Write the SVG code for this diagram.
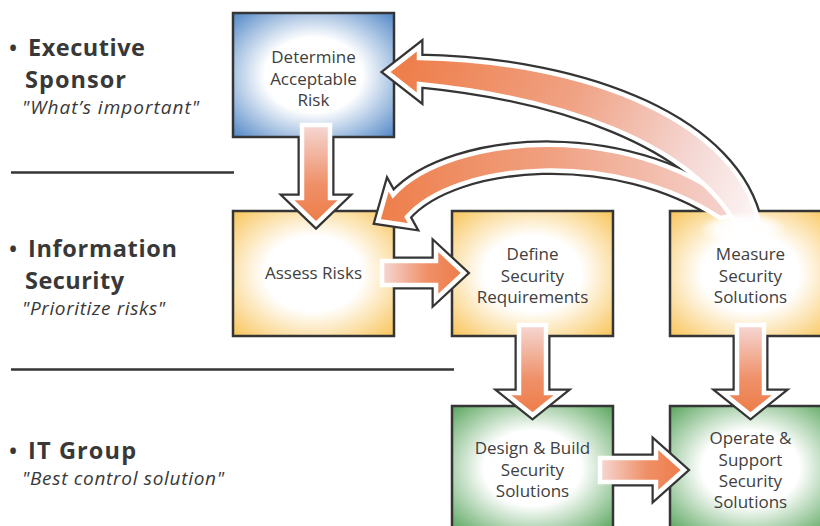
<svg xmlns="http://www.w3.org/2000/svg" width="820" height="526" viewBox="0 0 820 526">
<style>
.box{stroke:#353535;stroke-width:2.5}
.lbl{font-family:"Open Sans","Liberation Sans",sans-serif;font-size:17px;fill:#404040;text-anchor:middle}
.hd{font-family:"Open Sans","Liberation Sans",sans-serif;font-size:23.5px;font-weight:bold;fill:#383838}
.bu{font-family:"Open Sans","Liberation Sans",sans-serif;font-size:27px;fill:#383838}
.it{font-family:"Open Sans","Liberation Sans",sans-serif;font-size:19px;font-style:italic;fill:#383838}
.dk{fill:none;stroke:#353535;stroke-width:9;stroke-linejoin:miter;stroke-miterlimit:10}
.wt{stroke:#ffffff;stroke-width:4.5;stroke-linejoin:miter;stroke-miterlimit:10}
.rule{stroke:#353535;stroke-width:2.5}
</style>
<defs>
<radialGradient id="gBlue" cx="0.5" cy="0.5" r="0.72"><stop offset="0" stop-color="#ffffff"/><stop offset="0.42" stop-color="#ffffff"/><stop offset="1" stop-color="#4a82c4"/></radialGradient>
<radialGradient id="gYel" cx="0.5" cy="0.5" r="0.72"><stop offset="0" stop-color="#ffffff"/><stop offset="0.42" stop-color="#ffffff"/><stop offset="1" stop-color="#f8c253"/></radialGradient>
<radialGradient id="gGrn" cx="0.5" cy="0.5" r="0.72"><stop offset="0" stop-color="#ffffff"/><stop offset="0.42" stop-color="#ffffff"/><stop offset="1" stop-color="#53a257"/></radialGradient>
<linearGradient id="gH" x1="0" y1="0" x2="1" y2="0"><stop offset="0" stop-color="#f5d8d4"/><stop offset="0.55" stop-color="#ef9068"/><stop offset="1" stop-color="#ee7b47"/></linearGradient>
<linearGradient id="gV" x1="0" y1="0" x2="0" y2="1"><stop offset="0" stop-color="#f5d8d4"/><stop offset="0.6" stop-color="#ef9068"/><stop offset="1" stop-color="#ee7b47"/></linearGradient>
<linearGradient id="g1" gradientUnits="userSpaceOnUse" x1="400" y1="72" x2="750" y2="215"><stop offset="0" stop-color="#ee7e4a"/><stop offset="0.45" stop-color="#f0a284"/><stop offset="0.8" stop-color="#f5d8d4"/><stop offset="1" stop-color="#fbf3f2"/></linearGradient>
<linearGradient id="g2" gradientUnits="userSpaceOnUse" x1="380" y1="215" x2="735" y2="205"><stop offset="0" stop-color="#ee7e4a"/><stop offset="0.5" stop-color="#f0a283"/><stop offset="1" stop-color="#f5d4d0"/></linearGradient>
<radialGradient id="gGlow" cx="0.5" cy="0.5" r="0.5"><stop offset="0" stop-color="#ffffff" stop-opacity="1"/><stop offset="0.6" stop-color="#ffffff" stop-opacity="0.85"/><stop offset="1" stop-color="#ffffff" stop-opacity="0"/></radialGradient>
<clipPath id="cDet"><path clip-rule="evenodd" d="M0,0H820V526H0Z M233,13H394V137H233Z"/></clipPath>
<clipPath id="cAss"><path clip-rule="evenodd" d="M0,0H820V526H0Z M233,211H394V336H233Z"/></clipPath>
<clipPath id="cDef"><path clip-rule="evenodd" d="M0,0H820V526H0Z M452,211H613V336H452Z"/></clipPath>
<clipPath id="cMea"><path clip-rule="evenodd" d="M0,0H820V526H0Z M670,211H831V336H670Z"/></clipPath>
<clipPath id="cDes"><path clip-rule="evenodd" d="M0,0H820V526H0Z M452,406H613V530H452Z"/></clipPath>
<path id="pDA" d="M302,125 V198 H289 L316,224 L343,198 H330 V125 Z"/>
<path id="pAD" d="M382,261 H436 V247 L464,273 L436,299 V285 H382 Z"/>
<path id="pDD" d="M519,325 V393 H505 L532.5,415 L560,393 H546 V325 Z"/>
<path id="pMO" d="M737,325 V393 H723 L750.5,415 L778,393 H764 V325 Z"/>
<path id="pDO" d="M600,458 H656 V445 L684,470 L656,495 V482 H600 Z"/>
<path id="p1" d="M419,58 C590,61 738,122 759,224 L737,226 C690,142 560,98 419,84 L419,97 L387,72 L419,47 Z"/>
<path id="p2" d="M393,195 C450,132 640,118 745,214 L720,218 C615,148 455,162 407,217 L412,226 L378,221 L388,186 Z"/>
</defs>
<rect width="820" height="526" fill="#ffffff"/>
<g id="lanes">
<line class="rule" x1="11" y1="172.5" x2="234" y2="172.5"/>
<line class="rule" x1="11" y1="369.5" x2="454" y2="369.5"/>
<text class="bu" x="8" y="58">•</text><text class="hd" x="28" y="56" textLength="117" lengthAdjust="spacing">Executive</text>
<text class="hd" x="25" y="88" textLength="101" lengthAdjust="spacing">Sponsor</text>
<text class="it" x="22" y="114" textLength="177" lengthAdjust="spacing">"What’s important"</text>
<text class="bu" x="8" y="259">•</text><text class="hd" x="28" y="257" textLength="149" lengthAdjust="spacing">Information</text>
<text class="hd" x="25" y="289" textLength="99" lengthAdjust="spacing">Security</text>
<text class="it" x="22" y="315" textLength="143" lengthAdjust="spacing">"Prioritize risks"</text>
<text class="bu" x="8" y="461">•</text><text class="hd" x="28" y="459" textLength="108" lengthAdjust="spacing">IT Group</text>
<text class="it" x="22" y="485" textLength="202" lengthAdjust="spacing">"Best control solution"</text>
</g>
<g id="node-determine"><rect class="box" x="233" y="13" width="161" height="124" fill="url(#gBlue)"/></g>
<g id="node-assess"><rect class="box" x="233" y="211" width="161" height="125" fill="url(#gYel)"/></g>
<g id="node-define"><rect class="box" x="452" y="211" width="161" height="125" fill="url(#gYel)"/></g>
<g id="node-measure"><rect class="box" x="670" y="211" width="161" height="125" fill="url(#gYel)"/></g>
<g id="node-design"><rect class="box" x="452" y="406" width="161" height="124" fill="url(#gGrn)"/></g>
<g id="node-operate"><rect class="box" x="670" y="406" width="161" height="124" fill="url(#gGrn)"/></g>
<g id="connectors">
<use href="#pDA" class="dk" clip-path="url(#cDet)"/>
<use href="#pDA" class="wt" fill="url(#gV)"/>
<use href="#pAD" class="dk" clip-path="url(#cAss)"/>
<use href="#pAD" class="wt" fill="url(#gH)"/>
<use href="#pDD" class="dk" clip-path="url(#cDef)"/>
<use href="#pDD" class="wt" fill="url(#gV)"/>
<use href="#pMO" class="dk" clip-path="url(#cMea)"/>
<use href="#pMO" class="wt" fill="url(#gV)"/>
<use href="#pDO" class="dk" clip-path="url(#cDes)"/>
<use href="#pDO" class="wt" fill="url(#gH)"/>
<use href="#p1" class="dk" clip-path="url(#cMea)"/>
<use href="#p2" class="dk" clip-path="url(#cMea)"/>
<use href="#p2" class="wt" fill="url(#g2)"/>
<use href="#p1" class="wt" fill="url(#g1)"/>
<ellipse cx="743" cy="229" rx="44" ry="17" fill="url(#gGlow)"/>
</g>
<g id="labels">
<text class="lbl" x="313.5" y="63">Determine</text>
<text class="lbl" x="313.5" y="85">Acceptable</text>
<text class="lbl" x="313.5" y="106">Risk</text>
<text class="lbl" x="313.5" y="279">Assess Risks</text>
<text class="lbl" x="532.5" y="260">Define</text>
<text class="lbl" x="532.5" y="282">Security</text>
<text class="lbl" x="532.5" y="303">Requirements</text>
<text class="lbl" x="750.5" y="260">Measure</text>
<text class="lbl" x="750.5" y="282">Security</text>
<text class="lbl" x="750.5" y="303">Solutions</text>
<text class="lbl" x="532.5" y="454">Design &amp; Build</text>
<text class="lbl" x="532.5" y="476">Security</text>
<text class="lbl" x="532.5" y="497">Solutions</text>
<text class="lbl" x="750.5" y="444">Operate &amp;</text>
<text class="lbl" x="750.5" y="465.5">Support</text>
<text class="lbl" x="750.5" y="487">Security</text>
<text class="lbl" x="750.5" y="508">Solutions</text>
</g>
</svg>
